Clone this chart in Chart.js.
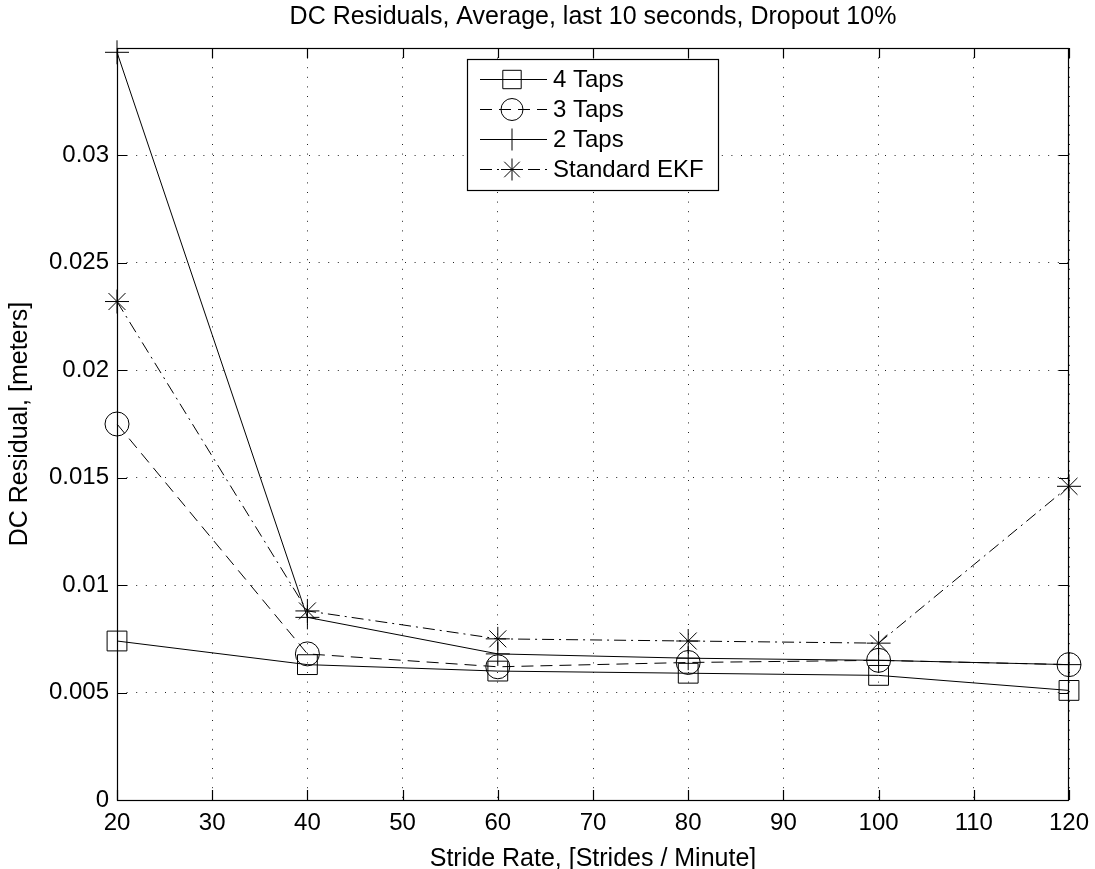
<!DOCTYPE html>
<html>
<head>
<meta charset="utf-8">
<script src="https://cdn.jsdelivr.net/npm/chart.js@4"></script>
<style>
  html, body { margin: 0; padding: 0; background: #fff; }
  #wrap { width: 1095px; height: 869px; }
</style>
</head>
<body>
<div id="wrap"><canvas id="chart" width="1095" height="869"></canvas></div>
<script>
// stride rates (strides / minute)
const strideRates = [20, 40, 60, 80, 100, 120];

// DC residual, meters
const taps4 = [0.0074, 0.0063, 0.0060, 0.0059, 0.0058, 0.0051];
const taps3 = [0.0175, 0.0068, 0.0062, 0.0064, 0.0065, 0.0063];
const taps2 = [0.0348, 0.0085, 0.0068, 0.0066, 0.0065, 0.0063];
const ekf   = [0.0232, 0.0088, 0.0075, 0.0074, 0.0073, 0.0146];

const seriesNames = ['4 Taps', '3 Taps', '2 Taps', 'Standard EKF'];
const chartTitle = 'DC Residuals, Average, last 10 seconds, Dropout 10%';

const FONT = '"Liberation Sans", Arial, Helvetica, sans-serif';

function toXY(ys) {
  return strideRates.map((x, i) => ({ x: x, y: ys[i] }));
}

function mkSet(label, ys, style, radius, dash) {
  return {
    label: label,
    data: toXY(ys),
    borderColor: '#000',
    borderWidth: 1,
    borderDash: dash,
    pointStyle: style,
    pointRadius: radius,
    pointHoverRadius: radius,
    pointBorderColor: '#000',
    pointBackgroundColor: 'rgba(0,0,0,0)',
    pointBorderWidth: 1,
    clip: false,
    fill: false,
    tension: 0
  };
}

// frame + inward ticks on all four sides, like matlab axes; title over the axes
const framePlugin = {
  id: 'frame',
  beforeDatasetsDraw(chart) {
    const { ctx, chartArea: a, scales } = chart;
    ctx.save();
    ctx.strokeStyle = '#000';
    ctx.lineWidth = 1.2;
    ctx.strokeRect(a.left + 0.5, a.top + 0.5, a.right - a.left - 1, a.bottom - a.top);
    const len = 10;
    ctx.beginPath();
    scales.x.ticks.forEach(t => {
      const px = Math.round(scales.x.getPixelForValue(t.value)) + 0.5;
      ctx.moveTo(px, a.bottom); ctx.lineTo(px, a.bottom - len);
      ctx.moveTo(px, a.top); ctx.lineTo(px, a.top + len);
    });
    scales.y.ticks.forEach(t => {
      const py = Math.round(scales.y.getPixelForValue(t.value)) + 0.5;
      ctx.moveTo(a.left, py); ctx.lineTo(a.left + len, py);
      ctx.moveTo(a.right, py); ctx.lineTo(a.right - len, py);
    });
    ctx.stroke();

    ctx.fillStyle = '#000';
    ctx.font = '25px ' + FONT;
    ctx.textAlign = 'center';
    ctx.textBaseline = 'middle';
    ctx.fillText(chartTitle, (a.left + a.right) / 2, 17);
    ctx.restore();
  }
};

// legend box inside the plot, top centre
const boxLegend = {
  id: 'boxLegend',
  afterDraw(chart) {
    const { ctx } = chart;
    const x0 = 467, y0 = 59, w = 251, h = 131;
    ctx.save();
    ctx.fillStyle = '#fff';
    ctx.fillRect(x0, y0, w, h);
    ctx.strokeStyle = '#000';
    ctx.lineWidth = 1.2;
    ctx.strokeRect(x0 + 0.5, y0 + 0.5, w, h);
    ctx.font = '24px ' + FONT;
    ctx.textBaseline = 'middle';
    chart.data.datasets.forEach((ds, i) => {
      const cy = y0 + 20 + i * 30;
      ctx.strokeStyle = '#000';
      ctx.lineWidth = 1;
      ctx.setLineDash(ds.borderDash || []);
      ctx.beginPath();
      ctx.moveTo(x0 + 13, cy + 0.5);
      ctx.lineTo(x0 + 80, cy + 0.5);
      ctx.stroke();
      ctx.setLineDash([]);
      ctx.fillStyle = 'rgba(0,0,0,0)';
      Chart.helpers.drawPoint(ctx, {
        pointStyle: ds.pointStyle,
        radius: ds.pointRadius - 1,
        borderWidth: 1
      }, x0 + 45, cy + 0.5);
      ctx.fillStyle = '#000';
      ctx.fillText(ds.label, x0 + 86, cy + 1);
    });
    ctx.restore();
  }
};

new Chart(document.getElementById('chart'), {
  type: 'line',
  data: {
    datasets: [
      mkSet(seriesNames[0], taps4, 'rect', 14, []),
      mkSet(seriesNames[1], taps3, 'circle', 12, [12, 7]),
      mkSet(seriesNames[2], taps2, 'cross', 12, []),
      mkSet(seriesNames[3], ekf, 'star', 12, [12, 5, 2, 5])
    ]
  },
  options: {
    responsive: false,
    animation: false,
    layout: { padding: { top: 48, right: 26, left: 0, bottom: 0 } },
    plugins: {
      legend: { display: false },
      tooltip: { enabled: false },
      title: { display: false }
    },
    scales: {
      x: {
        type: 'linear',
        min: 20,
        max: 120,
        ticks: {
          stepSize: 10,
          color: '#000',
          padding: 9,
          maxRotation: 0,
          font: { family: FONT, size: 24 }
        },
        grid: {
          color: '#222',
          lineWidth: 1,
          drawTicks: false
        },
        border: { display: false, dash: [1, 8.6] },
        title: {
          display: true,
          text: 'Stride Rate, [Strides / Minute]',
          color: '#000',
          font: { family: FONT, size: 25, lineHeight: 0.8 },
          padding: { top: 0, bottom: 0 }
        },
        afterFit(scale) {
          scale.height = 69;
          scale.paddingLeft = 0;
          scale.paddingRight = 0;
        }
      },
      y: {
        min: 0,
        max: 0.035,
        ticks: {
          stepSize: 0.005,
          color: '#000',
          padding: 8,
          font: { family: FONT, size: 24 },
          callback: v => (v > 0.0301 ? '' : String(+v.toFixed(3)))
        },
        grid: {
          color: '#222',
          lineWidth: 1,
          drawTicks: false
        },
        border: { display: false, dash: [1, 8.6] },
        title: {
          display: true,
          text: 'DC Residual, [meters]',
          color: '#000',
          font: { family: FONT, size: 25, lineHeight: 1.2 },
          padding: { top: 5, bottom: 0 }
        },
        afterFit(scale) {
          scale.width = 117;
          scale.paddingTop = 0;
          scale.paddingBottom = 0;
        }
      }
    }
  },
  plugins: [framePlugin, boxLegend]
});
</script>
</body>
</html>
